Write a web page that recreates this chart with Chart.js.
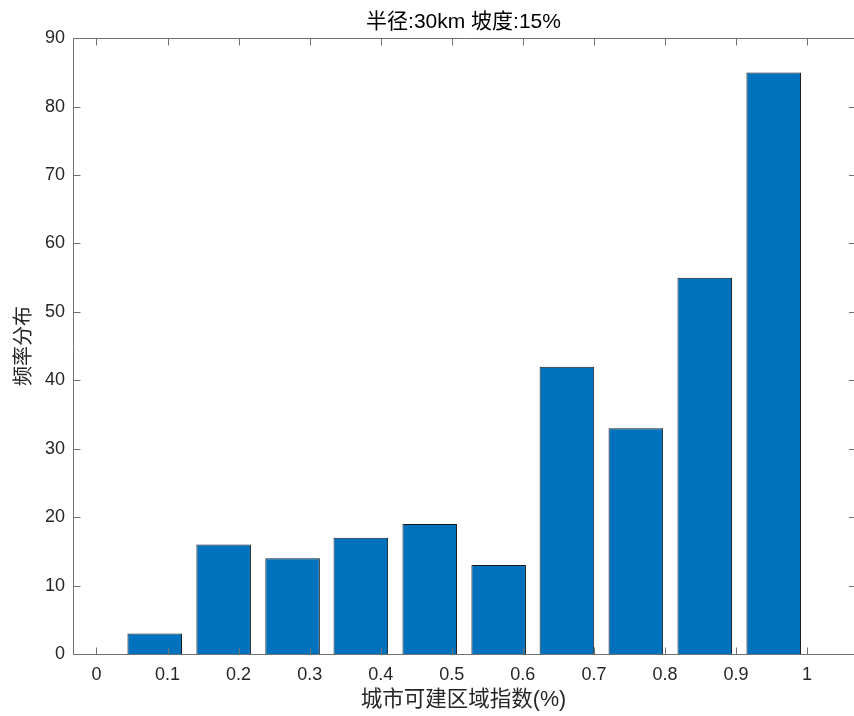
<!DOCTYPE html>
<html>
<head>
<meta charset="utf-8">
<title>频率分布</title>
<script src="https://cdn.jsdelivr.net/npm/chart.js@4/dist/chart.umd.min.js"></script>
<style>
  html, body { margin: 0; padding: 0; overflow: hidden; background: #fff; }
  #wrap { width: 854px; height: 716px; }
</style>
</head>
<body>
<div id="wrap"><canvas id="histChart" width="854" height="716"></canvas></div>
<script>
// Histogram values
const binCenters = [0.082, 0.179, 0.276, 0.372, 0.469, 0.566, 0.662, 0.759, 0.856, 0.953];
const counts = [3, 16, 14, 17, 19, 13, 42, 33, 55, 85];
const xTicks = [0, 0.1, 0.2, 0.3, 0.4, 0.5, 0.6, 0.7, 0.8, 0.9, 1];
const yTicks = [0, 10, 20, 30, 40, 50, 60, 70, 80, 90];

const titleText = "半径:30km 坡度:15%";
const xLabel = "城市可建区域指数(%)";
const yLabel = "频率分布";

const fontFamily = '"Liberation Sans", "Noto Sans CJK SC", sans-serif';
const axisColor = "#707070";
const textColor = "#262626";

// MATLAB-like axes box with inward ticks.
// The original figure is cropped just inside the right edge of the box,
// so only the inner ends of the right-hand ticks show there.
const matlabAxes = {
  id: "matlabAxes",
  afterDatasetsDraw(chart) {
    const { ctx, chartArea: a, scales } = chart;
    const len = 7;
    const left = Math.round(a.left) + 0.5;
    const edge = chart.width + 2; // box edge, outside the picture
    const top = Math.round(a.top) + 0.5;
    const bottom = Math.round(a.bottom) + 0.5;

    ctx.save();
    ctx.strokeStyle = axisColor;
    ctx.lineWidth = 1;
    ctx.beginPath();
    ctx.moveTo(edge, top);
    ctx.lineTo(left, top);
    ctx.lineTo(left, bottom);
    ctx.lineTo(edge, bottom);

    xTicks.forEach((v) => {
      const px = Math.round(scales.x.getPixelForValue(v)) + 0.5;
      ctx.moveTo(px, bottom);
      ctx.lineTo(px, bottom - len);
      ctx.moveTo(px, top);
      ctx.lineTo(px, top + len);
    });
    yTicks.forEach((v) => {
      const py = Math.round(scales.y.getPixelForValue(v)) + 0.5;
      ctx.moveTo(left, py);
      ctx.lineTo(left + len, py);
      ctx.moveTo(edge, py);
      ctx.lineTo(edge - len, py);
    });
    ctx.stroke();
    ctx.restore();
  },
};

const ctx = document.getElementById("histChart").getContext("2d");
new Chart(ctx, {
  type: "bar",
  data: {
    datasets: [
      {
        data: binCenters.map((x, i) => ({ x: x, y: counts[i] })),
        backgroundColor: "#0072BD",
        borderColor: "#1a1a1a",
        borderWidth: 1,
        barPercentage: 0.8,
        categoryPercentage: 1.0,
      },
    ],
  },
  options: {
    responsive: false,
    animation: false,
    layout: { padding: 0 },
    plugins: {
      legend: { display: false },
      tooltip: { enabled: false },
      title: {
        display: true,
        text: titleText,
        fullSize: false,
        color: "#000",
        font: { family: fontFamily, size: 21, weight: "normal" },
        padding: { top: 10, bottom: 3 },
      },
    },
    scales: {
      x: {
        type: "linear",
        offset: false,
        min: -0.033,
        max: 1.066,
        grid: { display: false, drawTicks: false, offset: false },
        border: { display: false },
        afterBuildTicks: (scale) => {
          scale.ticks = xTicks.map((v) => ({ value: v }));
        },
        afterFit: (scale) => {
          scale.height = 62;
          scale.paddingLeft = 0;
          scale.paddingRight = 0;
        },
        ticks: {
          color: textColor,
          padding: 10,
          maxRotation: 0,
          autoSkip: false,
          font: { family: fontFamily, size: 18 },
          callback: (v) => String(v),
        },
        title: {
          display: true,
          text: xLabel,
          color: textColor,
          font: { family: fontFamily, size: 21.5 },
          padding: { top: 0, bottom: 3 },
        },
      },
      y: {
        min: 0,
        max: 90,
        grid: { display: false, drawTicks: false },
        border: { display: false },
        afterBuildTicks: (scale) => {
          scale.ticks = yTicks.map((v) => ({ value: v }));
        },
        afterFit: (scale) => {
          scale.width = 73;
        },
        ticks: {
          color: textColor,
          padding: 8,
          font: { family: fontFamily, size: 18 },
          callback: (v) => String(v),
        },
        title: {
          display: true,
          text: yLabel,
          color: textColor,
          font: { family: fontFamily, size: 20 },
          padding: { top: 12, bottom: 0 },
        },
      },
    },
  },
  plugins: [matlabAxes],
});
</script>
</body>
</html>
